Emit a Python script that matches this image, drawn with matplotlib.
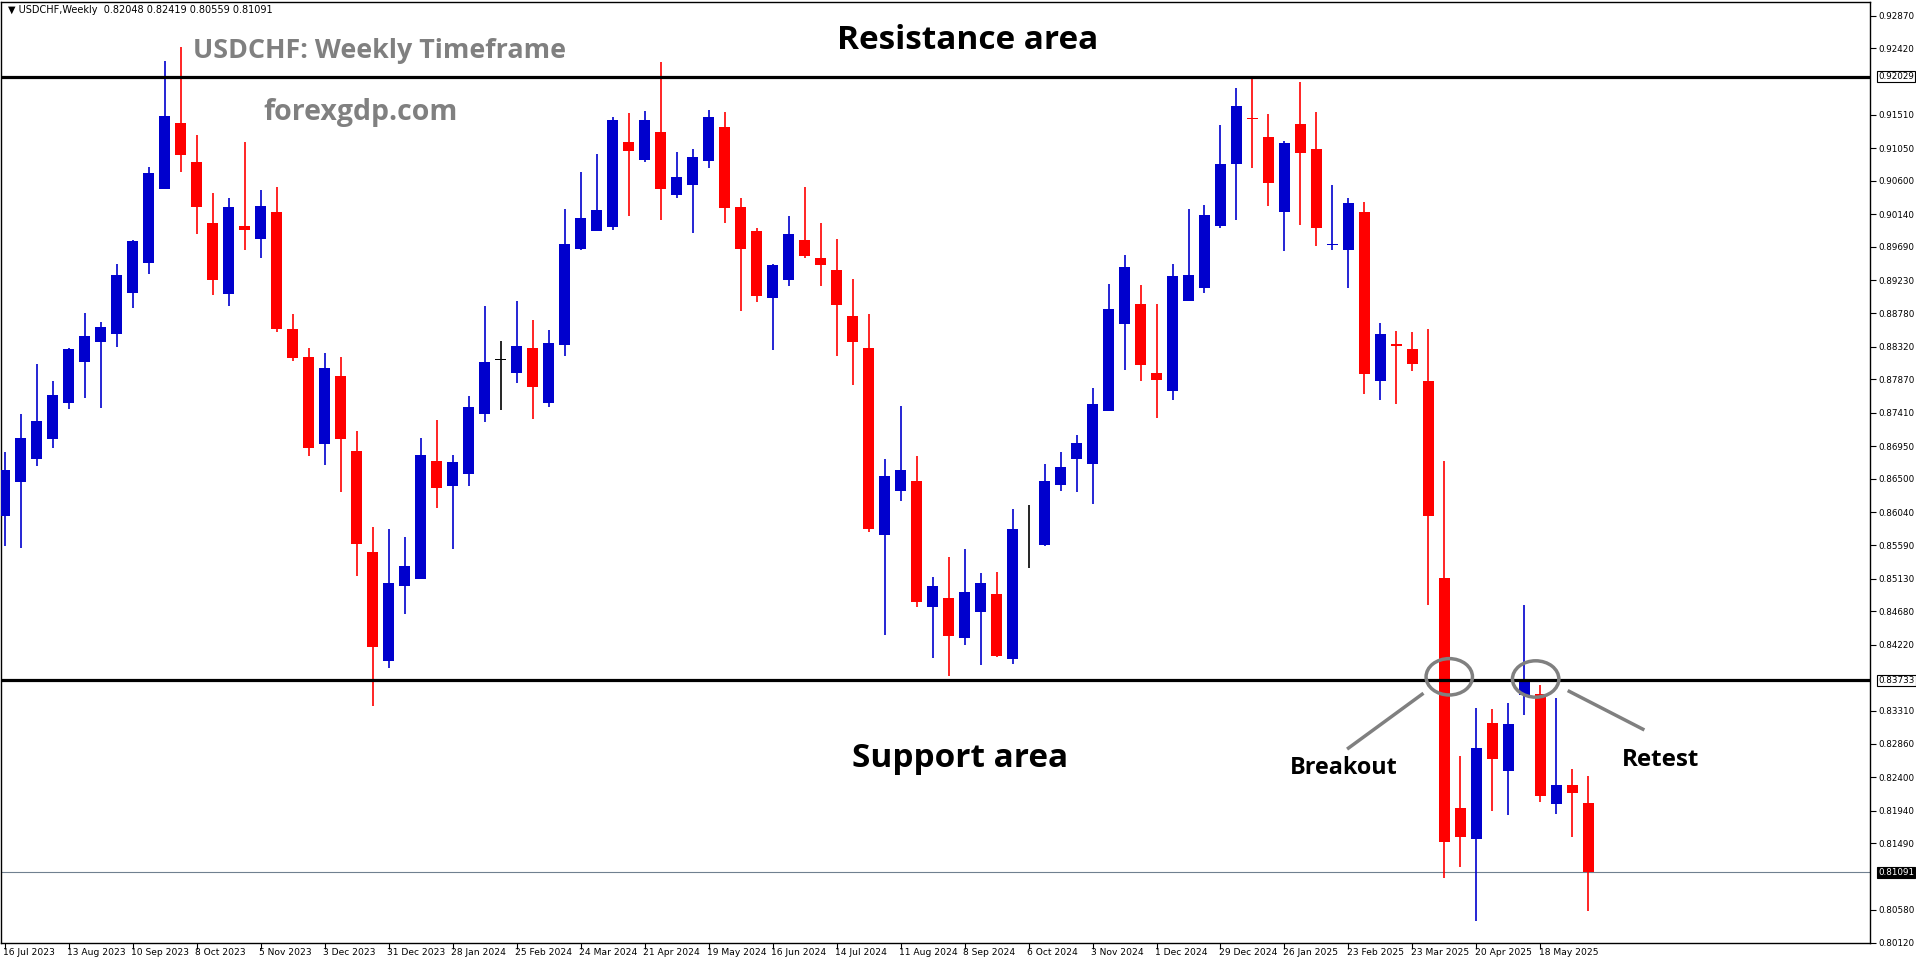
import numpy as np
import matplotlib
matplotlib.use("Agg")
import matplotlib.pyplot as plt
from matplotlib.patches import Ellipse

# weekly USDCHF candles, week of 16 Jul 2023 .. 18 May 2025
opens = [0.85993, 0.86458, 0.86772, 0.87046, 0.87540, 0.88103, 0.88377, 0.88500, 0.89062, 0.89469,
         0.90487, 0.91388, 0.90864, 0.90017, 0.89048, 0.89973, 0.89802, 0.90169, 0.88563, 0.88181,
         0.86977, 0.87917, 0.86889, 0.85493, 0.84003, 0.85031, 0.85127, 0.86752, 0.86404, 0.86566,
         0.87388, 0.88132, 0.87951, 0.88304, 0.87540, 0.88348, 0.89665, 0.89909, 0.89968, 0.91138,
         0.90879, 0.91265, 0.90399, 0.90541, 0.90869, 0.91334, 0.90237, 0.89904, 0.88994, 0.89239,
         0.89782, 0.89537, 0.89371, 0.88735, 0.88304, 0.85724, 0.86336, 0.86468, 0.84739, 0.84863,
         0.84319, 0.84675, 0.84917, 0.84031, 0.85724, 0.85598, 0.86415, 0.86771, 0.86705, 0.87430,
         0.88629, 0.88900, 0.87957, 0.87707, 0.88946, 0.89130, 0.89980, 0.90837, 0.91469, 0.91199,
         0.90171, 0.91377, 0.91034, 0.89720, 0.89645, 0.90165, 0.87853, 0.88352, 0.88289, 0.87846,
         0.85133, 0.81977, 0.81548, 0.83150, 0.82483, 0.83523, 0.83537, 0.82026, 0.82293, 0.82048]
highs = [0.86874, 0.87388, 0.88083, 0.87849, 0.88304, 0.88783, 0.88661, 0.89454, 0.89787, 0.90790,
         0.92249, 0.92440, 0.91236, 0.90428, 0.90360, 0.91128, 0.90467, 0.90521, 0.88769, 0.88304,
         0.88235, 0.88181, 0.87153, 0.85835, 0.85808, 0.85698, 0.87070, 0.87315, 0.86835, 0.87643,
         0.88876, 0.88397, 0.88945, 0.88686, 0.88548, 0.90208, 0.90717, 0.90962, 0.91471, 0.91525,
         0.91564, 0.92234, 0.90991, 0.91030, 0.91579, 0.91539, 0.90360, 0.89944, 0.89454, 0.90110,
         0.90511, 0.90017, 0.89797, 0.89248, 0.88769, 0.86781, 0.87506, 0.86811, 0.85150, 0.85425,
         0.85534, 0.85205, 0.85219, 0.86086, 0.86145, 0.86699, 0.86864, 0.87107, 0.87746, 0.89176,
         0.89578, 0.89163, 0.88900, 0.89453, 0.90211, 0.90263, 0.91364, 0.91878, 0.92016, 0.91515,
         0.91146, 0.91957, 0.91548, 0.90545, 0.90362, 0.90313, 0.88640, 0.88535, 0.88514, 0.88563,
         0.86742, 0.82694, 0.83354, 0.83340, 0.83425, 0.84774, 0.83671, 0.83495, 0.82518, 0.82419]
lows = [0.85577, 0.85553, 0.86679, 0.86923, 0.87457, 0.87609, 0.87472, 0.88309, 0.88857, 0.89317,
        0.90487, 0.90717, 0.89870, 0.89028, 0.88881, 0.89650, 0.89542, 0.88524, 0.88123, 0.86816,
        0.86688, 0.86321, 0.85171, 0.83373, 0.83907, 0.84647, 0.85127, 0.86101, 0.85538, 0.86404,
        0.87281, 0.87442, 0.87814, 0.87320, 0.87486, 0.88186, 0.89650, 0.89909, 0.89924, 0.90115,
        0.90854, 0.90056, 0.90365, 0.89885, 0.90776, 0.90022, 0.88813, 0.88940, 0.88279, 0.89151,
        0.89542, 0.89156, 0.88196, 0.87790, 0.85773, 0.84348, 0.86199, 0.84739, 0.84040, 0.83789,
        0.84223, 0.83949, 0.84058, 0.83950, 0.85282, 0.85572, 0.86330, 0.86317, 0.86152, 0.87430,
        0.87997, 0.87845, 0.87338, 0.87582, 0.88946, 0.89058, 0.89954, 0.90066, 0.90777, 0.90257,
        0.89638, 0.89993, 0.89703, 0.89652, 0.89125, 0.87670, 0.87579, 0.87537, 0.87986, 0.84774,
        0.81007, 0.81161, 0.80416, 0.81941, 0.81878, 0.83256, 0.82054, 0.81892, 0.81583, 0.80559]
closes = [0.86630, 0.87070, 0.87300, 0.87658, 0.88289, 0.88465, 0.88593, 0.89302, 0.89767, 0.90702,
          0.91495, 0.90952, 0.90242, 0.89239, 0.90237, 0.89924, 0.90247, 0.88563, 0.88157, 0.86923,
          0.88030, 0.87046, 0.85607, 0.84195, 0.85068, 0.85301, 0.86835, 0.86375, 0.86728, 0.87496,
          0.88113, 0.88132, 0.88328, 0.87760, 0.88372, 0.89728, 0.90086, 0.90193, 0.91441, 0.91006,
          0.91441, 0.90487, 0.90648, 0.90923, 0.91471, 0.90227, 0.89665, 0.89018, 0.89439, 0.89865,
          0.89567, 0.89444, 0.88896, 0.88377, 0.85812, 0.86546, 0.86630, 0.84812, 0.85027, 0.84342,
          0.84945, 0.85068, 0.84072, 0.85816, 0.85724, 0.86475, 0.86666, 0.86989, 0.87536, 0.88834,
          0.89413, 0.88069, 0.87858, 0.89288, 0.89301, 0.90125, 0.90830, 0.91627, 0.91449, 0.90573,
          0.91120, 0.90975, 0.89954, 0.89730, 0.90299, 0.87937, 0.88493, 0.88324, 0.88078, 0.85997,
          0.81506, 0.81583, 0.82806, 0.82644, 0.83136, 0.83720, 0.82138, 0.82293, 0.82187, 0.81091]

date_labels = ["16 Jul 2023", "13 Aug 2023", "10 Sep 2023", "8 Oct 2023", "5 Nov 2023", "3 Dec 2023",
               "31 Dec 2023", "28 Jan 2024", "25 Feb 2024", "24 Mar 2024", "21 Apr 2024", "19 May 2024",
               "16 Jun 2024", "14 Jul 2024", "11 Aug 2024", "8 Sep 2024", "6 Oct 2024", "3 Nov 2024",
               "1 Dec 2024", "29 Dec 2024", "26 Jan 2025", "23 Feb 2025", "23 Mar 2025", "20 Apr 2025",
               "18 May 2025"]
price_ticks = [0.92870, 0.92420, 0.91510, 0.91050, 0.90600, 0.90140, 0.89690, 0.89230, 0.88780,
               0.88320, 0.87870, 0.87410, 0.86950, 0.86500, 0.86040, 0.85590, 0.85130, 0.84680,
               0.84220, 0.83310, 0.82860, 0.82400, 0.81940, 0.81490, 0.80580, 0.80120]
resistance = 0.92029
support = 0.83733
last_price = 0.81091

BLUE = "#0000CD"
RED = "#FF0000"

fig = plt.figure(figsize=(19.16, 9.64), dpi=100)
W, H = 1916, 964
ax = fig.add_axes([1 / W, (H - 943) / H, 1869 / W, 941 / H])

o, h, l, c = map(np.array, (opens, highs, lows, closes))
x = np.arange(len(o))
col = np.where(c > o, BLUE, np.where(c < o, RED, "black"))
ax.vlines(x, l, h, colors=col, linewidth=1.2, zorder=2)
body_lo = np.minimum(o, c)
body_h = np.maximum(np.abs(c - o), 0.00012)
ax.bar(x, body_h, bottom=body_lo, width=0.68, color=col, linewidth=0, zorder=3)

ax.axhline(resistance, color="black", linewidth=2.3, zorder=4)
ax.axhline(support, color="black", linewidth=2.3, zorder=4)
ax.axhline(last_price, color="#708090", linewidth=0.8, zorder=1)

ax.set_xlim(-0.23, 116.6)
ax.set_ylim(0.80150, 0.93058)

# price scale on the right
ax.yaxis.tick_right()
ax.set_yticks(price_ticks)
ax.set_yticklabels([f"{p:.5f}" for p in price_ticks], fontsize=6.3)
ax.tick_params(axis="y", length=4, width=0.8, pad=2)
for p in (resistance, support):
    ax.annotate(f"{p:.5f}", xy=(1.0, p), xycoords=("axes fraction", "data"),
                xytext=(6, 0), textcoords="offset points", va="center", ha="left",
                fontsize=6.3, bbox=dict(boxstyle="square,pad=0.1", fc="white", ec="black", lw=0.8))
ax.annotate(f"{last_price:.5f}", xy=(1.0, last_price), xycoords=("axes fraction", "data"),
            xytext=(6, 0), textcoords="offset points", va="center", ha="left", color="white",
            fontsize=6.3, bbox=dict(boxstyle="square,pad=0.1", fc="black", ec="black", lw=0.8))

# dates below, left-aligned at their week
ax.set_xticks(np.arange(0, len(o), 4))
ax.set_xticklabels([])
ax.tick_params(axis="x", length=4, width=0.8)
for i, lab in zip(np.arange(0, len(o), 4), date_labels):
    ax.text(i - 0.1, -0.005, lab, transform=ax.get_xaxis_transform(), ha="left", va="top", fontsize=6.6)

for s in ax.spines.values():
    s.set_linewidth(1.0)

ax.text(0.004, 0.997, "\u25bc USDCHF,Weekly  0.82048 0.82419 0.80559 0.81091", transform=ax.transAxes,
        fontsize=7, va="top", ha="left")

# annotations
ax.text(60.2, 0.92530, "Resistance area", fontsize=24, fontweight="bold", family="Open Sans",
        ha="center", va="center")
ax.text(59.7, 0.82650, "Support area", fontsize=24, fontweight="bold", family="Open Sans",
        ha="center", va="center")
ax.text(11.8, 0.92380, "USDCHF: Weekly Timeframe", fontsize=19.4, fontweight="bold", color="#808080",
        family="Open Sans", ha="left", va="center")
ax.text(16.2, 0.91540, "forexgdp.com", fontsize=20.5, fontweight="bold", color="#808080",
        family="Open Sans", ha="left", va="center")
ax.text(83.7, 0.82530, "Breakout", fontsize=16.8, fontweight="bold", family="Open Sans",
        ha="center", va="center")
ax.text(103.5, 0.82640, "Retest", fontsize=17.5, fontweight="bold", family="Open Sans",
        ha="center", va="center")
for cx, cy in ((90.3, 0.83780), (95.7, 0.83750)):
    ax.add_patch(Ellipse((cx, cy), 2.9, 0.0050, fill=False, edgecolor="#808080", linewidth=2.5, zorder=5))
ax.plot([88.6, 84.0], [0.83540, 0.82800], color="#808080", linewidth=2.5)
ax.plot([97.8, 102.4], [0.83580, 0.83060], color="#808080", linewidth=2.5)

fig.savefig("out.png", dpi=100)
